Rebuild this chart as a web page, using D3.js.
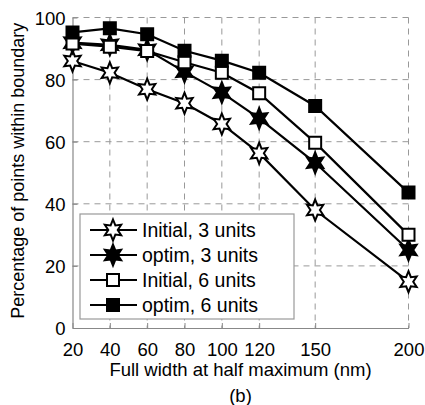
<!DOCTYPE html>
<html>
<head>
<meta charset="utf-8">
<script src="https://cdn.jsdelivr.net/npm/d3@7"></script>
<style>
  body { margin: 0; background: #fff; }
  svg text { font-family: "Liberation Sans", Arial, sans-serif; fill: #000; }
</style>
</head>
<body>
<div id="chart"></div>
<script>
// Data
const fwhm = [20, 40, 60, 80, 100, 120, 150, 200];
const initial3 = [86, 82.2, 76.9, 72.4, 65.7, 56.3, 38, 14.9];
const optim3 = [91.9, 91.2, 89.6, 82.5, 75.8, 67.5, 53.2, 25.1];
const initial6 = [91.6, 90.6, 89.2, 85.6, 82.2, 75.6, 59.7, 30];
const optim6 = [95.2, 96.5, 94.6, 89.3, 86.1, 82.2, 71.5, 43.6];
const yTicks = [0, 20, 40, 60, 80, 100];
const seriesNames = ["Initial, 3 units", "optim, 3 units", "Initial, 6 units", "optim, 6 units"];

const series = [
    {name: seriesNames[0], values: initial3, shape: "star", fill: "#fff"},
    {name: seriesNames[1], values: optim3, shape: "star", fill: "#000"},
    {name: seriesNames[2], values: initial6, shape: "square", fill: "#fff"},
    {name: seriesNames[3], values: optim6, shape: "square", fill: "#000"}
];

const width = 425, height = 405;
const plot = {left: 72.5, right: 408.5, top: 17.5, bottom: 328};

let svg = d3.select("#chart").append("svg")
    .attr("width", width)
    .attr("height", height);

let x = d3.scaleLinear().domain([20, 200]).range([plot.left, plot.right]);
let y = d3.scaleLinear().domain([0, 100]).range([plot.bottom, plot.top]);

// dashed grid
svg.append("g")
    .selectAll("line")
    .data(fwhm.slice(1))
    .enter().append("line")
    .attr("x1", d => x(d)).attr("x2", d => x(d))
    .attr("y1", plot.top).attr("y2", plot.bottom)
    .attr("stroke", "#999").attr("stroke-dasharray", "6,5");

svg.append("g")
    .selectAll("line")
    .data(yTicks.slice(1))
    .enter().append("line")
    .attr("x1", plot.left).attr("x2", plot.right)
    .attr("y1", d => y(d)).attr("y2", d => y(d))
    .attr("stroke", "#999").attr("stroke-dasharray", "6,5");

// axes (ticks pointing inward)
let xAxis = svg.append("g")
    .attr("transform", `translate(0,${plot.bottom})`)
    .call(d3.axisBottom(x).tickValues(fwhm).tickSizeInner(-5).tickSizeOuter(0).tickPadding(10));
let yAxis = svg.append("g")
    .attr("transform", `translate(${plot.left},0)`)
    .call(d3.axisLeft(y).tickValues(yTicks).tickSizeInner(-5).tickSizeOuter(0).tickPadding(7));

[xAxis, yAxis].forEach(a => {
    a.select(".domain").attr("stroke", "#888").attr("stroke-width", 1.2);
    a.selectAll(".tick line").attr("stroke", "#888");
    a.selectAll(".tick text").style("font-size", "18.5px").attr("fill", "#000");
});
xAxis.selectAll(".tick text").attr("dy", "0.95em");
yAxis.selectAll(".tick text").attr("dy", "0.36em");

// marker shapes
function starPath(r) {
    let pts = [];
    for (let i = 0; i < 12; i++) {
        let a = i * Math.PI / 6;
        let rr = i % 2 === 0 ? r : r * 0.5;
        pts.push([rr * Math.sin(a) * 0.9, -rr * Math.cos(a)]);
    }
    return "M" + pts.map(p => p.join(",")).join("L") + "Z";
}
function markerPath(shape) {
    return shape === "star" ? starPath(10.5) : "M-6,-6H6V6H-6Z";
}

let line = d3.line().x((d, i) => x(fwhm[i])).y(d => y(d));

series.forEach(s => {
    svg.append("path")
        .attr("d", line(s.values))
        .attr("fill", "none")
        .attr("stroke", "#000")
        .attr("stroke-width", 2.2);
});
series.forEach(s => {
    svg.append("g")
        .selectAll("path")
        .data(s.values)
        .enter().append("path")
        .attr("transform", (d, i) => `translate(${x(fwhm[i])},${y(d)})`)
        .attr("d", markerPath(s.shape))
        .attr("fill", s.fill)
        .attr("stroke", "#000")
        .attr("stroke-width", 2);
});

// legend
let legend = svg.append("g").attr("transform", "translate(80,214)");
legend.append("rect")
    .attr("width", 214).attr("height", 105)
    .attr("fill", "#fff").attr("stroke", "#999").attr("stroke-width", 1.2);

series.forEach((s, i) => {
    let ly = 16 + i * 25;
    let g = legend.append("g").attr("transform", `translate(0,${ly})`);
    g.append("line")
        .attr("x1", 10).attr("x2", 57)
        .attr("stroke", "#000").attr("stroke-width", 2.2);
    g.append("path")
        .attr("transform", "translate(33,0)")
        .attr("d", markerPath(s.shape))
        .attr("fill", s.fill).attr("stroke", "#000").attr("stroke-width", 2);
    g.append("text")
        .attr("x", 62).attr("dy", "0.36em")
        .style("font-size", "19.5px")
        .text(s.name);
});

// axis titles
svg.append("text")
    .attr("x", (plot.left + plot.right) / 2).attr("y", 376)
    .attr("text-anchor", "middle")
    .style("font-size", "18.5px")
    .text("Full width at half maximum (nm)");

svg.append("text")
    .attr("transform", `translate(24,${(plot.top + plot.bottom) / 2 - 2}) rotate(-90)`)
    .attr("text-anchor", "middle")
    .style("font-size", "18px")
    .text("Percentage of points within boundary");

svg.append("text")
    .attr("x", (plot.left + plot.right) / 2).attr("y", 402)
    .attr("text-anchor", "middle")
    .style("font-size", "18.5px")
    .text("(b)");
</script>
</body>
</html>
